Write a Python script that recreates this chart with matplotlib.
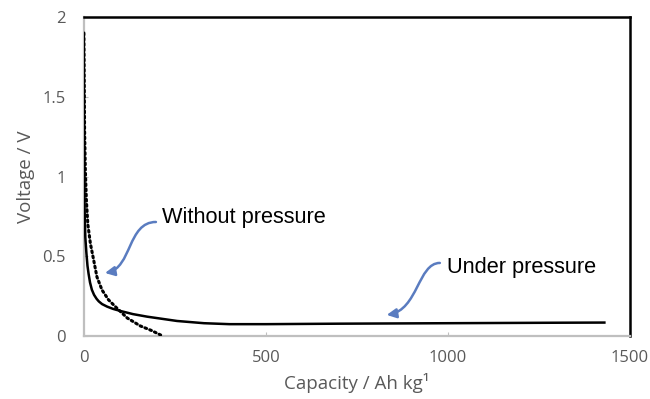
"""Discharge curves of the cell with and without stack pressure."""

import matplotlib.pyplot as plt
from matplotlib.patches import FancyArrowPatch
from matplotlib.path import Path

# capacity (Ah/kg) and voltage (V)
cap_pressure = [0, 0.5, 1, 2, 4, 7, 10, 13, 17, 22, 28, 35, 41, 50, 64, 80,
                100, 135, 174, 256, 330, 400, 500, 700, 900, 1100, 1300, 1430]
volt_pressure = [1.9, 1.4, 1.05, 0.8, 0.62, 0.52, 0.44, 0.39, 0.335, 0.29,
                 0.258, 0.233, 0.217, 0.2, 0.184, 0.17, 0.157, 0.137, 0.121,
                 0.094, 0.08, 0.074, 0.074, 0.077, 0.079, 0.081, 0.083, 0.084]

cap_free = [0, 1, 2, 4, 7, 11, 18, 27, 36, 50, 68, 91, 119, 155, 185, 211]
volt_free = [1.9, 1.6, 1.3, 1.05, 0.85, 0.7, 0.58, 0.476, 0.37, 0.288,
             0.226, 0.174, 0.113, 0.063, 0.035, 0.006]

x_ticks = [0, 500, 1000, 1500]
y_ticks = [0, 0.5, 1, 1.5, 2]
y_tick_labels = ["0", "0.5", "1", "1.5", "2"]

GREY = "#595959"
ARROW = "#5a7cc0"

fig = plt.figure(figsize=(6.5, 3.99), dpi=100)
ax = fig.add_axes([0.129, 0.158, 0.840, 0.799])

ax.plot(cap_pressure, volt_pressure, color="black", lw=1.8, zorder=3)
ax.plot(cap_free, volt_free, color="black", lw=2.2,
        linestyle=(0, (0.6, 1.1)), dash_capstyle="round", zorder=3)

ax.set_xlim(0, 1500)
ax.set_ylim(0, 2)
ax.set_xticks(x_ticks)
ax.set_yticks(y_ticks)
ax.set_yticklabels(y_tick_labels)
ax.tick_params(axis="x", direction="in", length=3, color="#bfbfbf",
               labelsize=12, labelcolor=GREY, pad=10)
ax.tick_params(axis="y", direction="in", length=3, color="#bfbfbf",
               labelsize=12, labelcolor=GREY, pad=13)
for lab in ax.get_xticklabels() + ax.get_yticklabels():
    lab.set_family("Open Sans")

for side in ("left", "bottom"):
    ax.spines[side].set_color("#bfbfbf")
    ax.spines[side].set_linewidth(1.6)
for side in ("top", "right"):
    ax.spines[side].set_color("black")
    ax.spines[side].set_linewidth(1.8)

ax.set_xlabel("Capacity / Ah kg¹", family="Open Sans", fontsize=13.5,
              color=GREY, labelpad=5)
ax.set_ylabel("Voltage / V", family="Open Sans", fontsize=13.5,
              color=GREY, labelpad=5)

ax.text(214, 0.746, "Without pressure", family="Liberation Sans",
        fontsize=15.7, va="center", ha="left")
ax.text(998, 0.43, "Under pressure", family="Liberation Sans",
        fontsize=15.7, va="center", ha="left")


def curved_arrow(tail, c1, c2, tip):
    path = Path([tail, c1, c2, tip],
                [Path.MOVETO, Path.CURVE4, Path.CURVE4, Path.CURVE4])
    arrow = FancyArrowPatch(path=path, arrowstyle="-|>", mutation_scale=14,
                            lw=1.8, color=ARROW, zorder=4)
    ax.add_patch(arrow)


curved_arrow((198, 0.715), (120, 0.715), (132, 0.426), (58, 0.395))
curved_arrow((978, 0.458), (918, 0.458), (918, 0.163), (832, 0.132))

fig.savefig("out.png", dpi=100, facecolor="white")
